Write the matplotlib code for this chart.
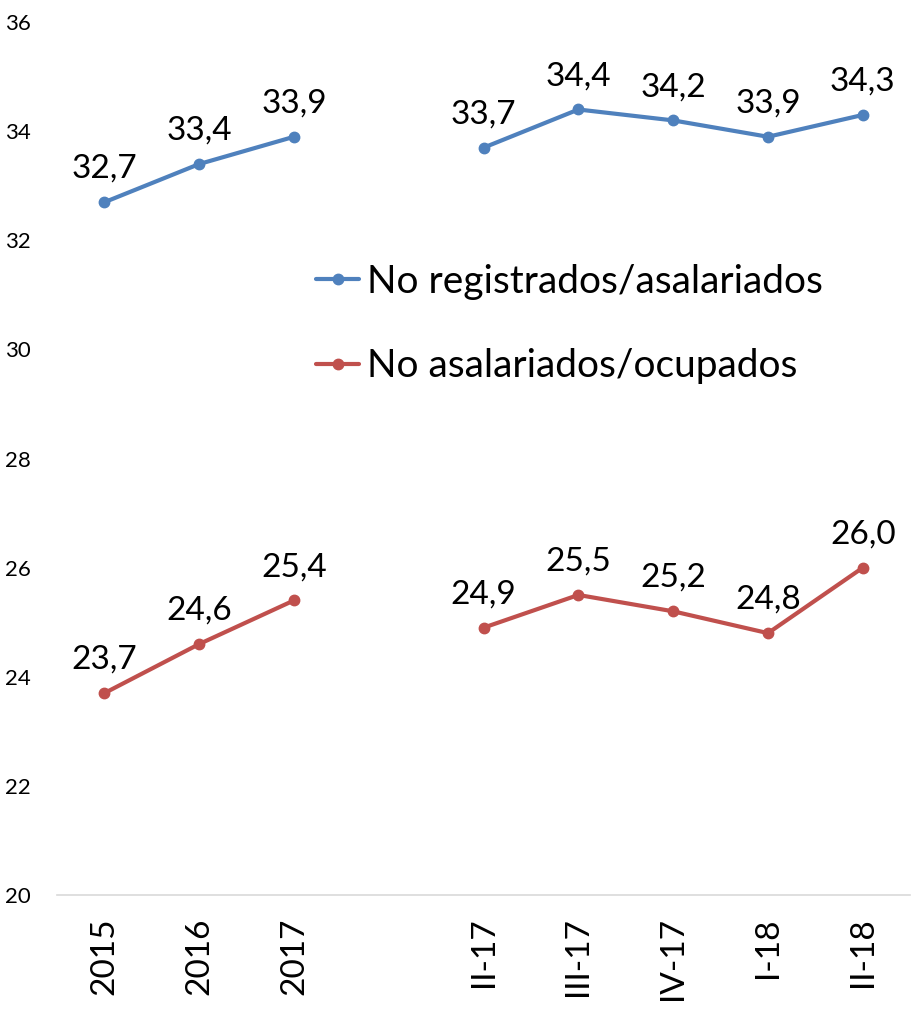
import numpy as np
import matplotlib
matplotlib.use("Agg")
import matplotlib.pyplot as plt

plt.rcParams['font.family'] = ['Lato', 'DejaVu Sans']

# data (index 3 is the empty gap)
categories = ["2015", "2016", "2017", "", "II-17", "III-17", "IV-17", "I-18", "II-18"]
no_registrados = [32.7, 33.4, 33.9, np.nan, 33.7, 34.4, 34.2, 33.9, 34.3]
no_asalariados = [23.7, 24.6, 25.4, np.nan, 24.9, 25.5, 25.2, 24.8, 26.0]
series_names = ["No registrados/asalariados", "No asalariados/ocupados"]
colors = ["#4f81bd", "#c0504d"]

fig = plt.figure(figsize=(9.12, 10.10), dpi=100)
ax = fig.add_axes([0.0625, 0.1139, 0.9355, 0.8641])

x = np.arange(len(categories))
for vals, name, col in zip([no_registrados, no_asalariados], series_names, colors):
    ax.plot(x, vals, color=col, lw=3, marker='o', markersize=7.5, label=name,
            solid_capstyle='round')
    for xi, v in zip(x, vals):
        if np.isnan(v):
            continue
        ax.annotate(f"{v:.1f}".replace('.', ','), (xi, v), xytext=(0, 24),
                    textcoords='offset points', ha='center', va='center',
                    fontsize=24, color='black')

ax.set_xlim(-0.5, len(categories) - 0.5)
ax.set_ylim(20, 36)
ax.set_yticks(np.arange(20, 37, 2))
ax.set_xticks(x)
ax.set_xticklabels(categories, rotation=90, fontsize=24)
ax.tick_params(axis='x', length=0, pad=16)
ax.tick_params(axis='y', length=0, pad=19, labelsize=16)

for s in ['top', 'right', 'left']:
    ax.spines[s].set_visible(False)
ax.spines['bottom'].set_color('#d9d9d9')
ax.spines['bottom'].set_linewidth(1.2)

fig.legend(loc='upper left', bbox_to_anchor=(0.347, 0.739), frameon=False,
           fontsize=28, borderpad=0, borderaxespad=0, handlelength=1.1,
           handletextpad=0.2, labelspacing=1.25)

fig.savefig("out.png", dpi=100)
